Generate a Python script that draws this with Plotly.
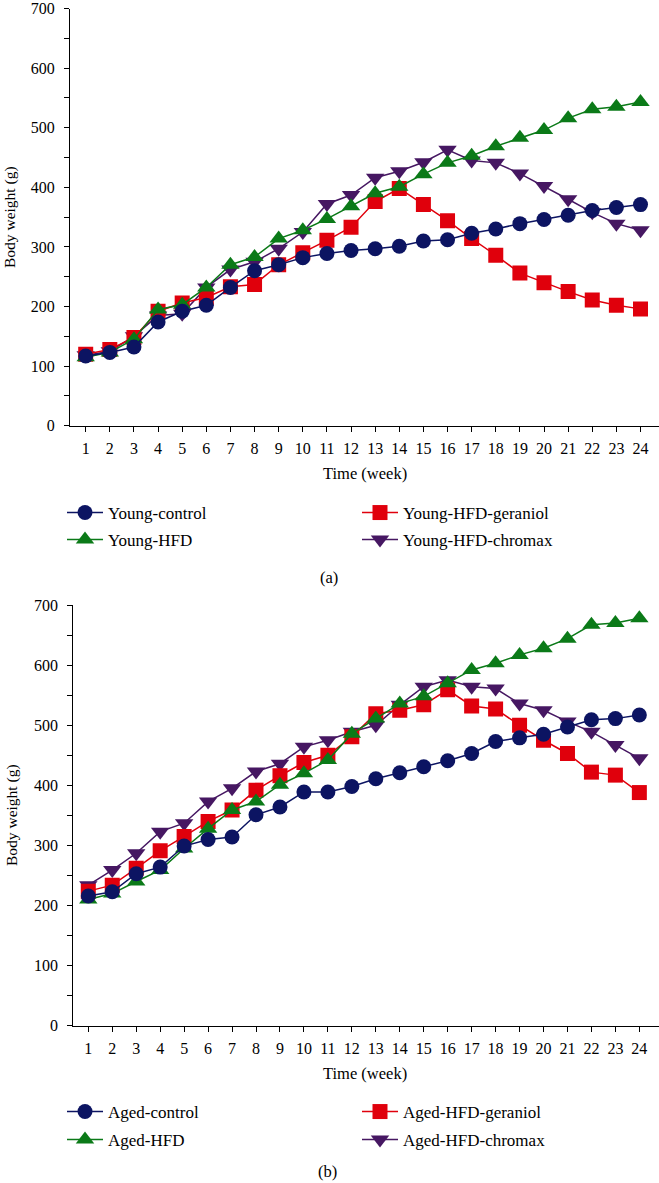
import plotly.graph_objects as go

weeks = list(range(1, 25))

young_control = [117, 123, 132, 174, 192, 202, 232, 260, 270, 282, 289, 294,
                 297, 301, 310, 312, 323, 330, 339, 346, 353, 361, 366, 371]
young_hfd = [115, 123, 145, 195, 203, 232, 270, 283, 314, 328, 347, 368,
             390, 401, 422, 441, 453, 469, 483, 496, 516, 531, 535, 543]
young_geraniol = [120, 128, 148, 192, 206, 215, 233, 237, 270, 290, 311, 333,
                  376, 398, 371, 344, 314, 286, 256, 240, 225, 211, 202, 196]
young_chromax = [118, 125, 150, 185, 188, 232, 262, 275, 297, 325, 372, 387,
                 416, 427, 442, 463, 445, 441, 423, 402, 380, 358, 339, 328]

aged_control = [216, 223, 253, 264, 299, 310, 314, 351, 364, 389, 389, 398,
                411, 421, 431, 441, 453, 473, 479, 485, 497, 509, 511, 517]
aged_hfd = [210, 220, 240, 259, 295, 328, 359, 373, 401, 420, 442, 486,
            511, 536, 548, 570, 592, 603, 617, 628, 644, 667, 670, 678]
aged_geraniol = [224, 234, 262, 291, 315, 340, 359, 392, 416, 438, 450, 481,
                 519, 525, 534, 559, 532, 527, 500, 475, 453, 422, 417, 388]
aged_chromax = [234, 259, 287, 323, 337, 373, 395, 423, 436, 464, 475, 489,
                500, 534, 564, 575, 564, 561, 536, 525, 506, 489, 467, 445]

names_young = ["Young-control", "Young-HFD", "Young-HFD-geraniol", "Young-HFD-chromax"]
names_aged = ["Aged-control", "Aged-HFD", "Aged-HFD-geraniol", "Aged-HFD-chromax"]

NAVY = "#0c1462"
GREEN = "#0b7a18"
RED = "#e0000c"
PURPLE = "#461762"
FONT = "Liberation Serif"

W, H = 659, 1183

def px_x(p):
    return p / W

def px_y(p):
    return 1 - p / H

fig = go.Figure()

styles = [
    (NAVY, "circle", 15),
    (GREEN, "triangle-up", 16),
    (RED, "square", 15),
    (PURPLE, "triangle-down", 16),
]

panels = [
    (names_young, [young_control, young_hfd, young_geraniol, young_chromax], "x", "y", 0),
    (names_aged, [aged_control, aged_hfd, aged_geraniol, aged_chromax], "x2", "y2", 4),
]

draw_order = [3, 2, 1, 0]
for names, series, xa, ya, off in panels:
    for i in draw_order:
        color, sym, size = styles[i]
        lg_idx = off + i + 1
        lg_name = "legend" if lg_idx == 1 else f"legend{lg_idx}"
        fig.add_trace(go.Scatter(
            x=weeks, y=series[i], name=names[i], xaxis=xa, yaxis=ya,
            mode="lines+markers",
            line=dict(color=color, width=1.5),
            marker=dict(color=color, symbol=sym, size=size, line=dict(width=0)),
            legend=lg_name, showlegend=True,
        ))

legend_layouts = {}
rows = {0: (513, 540), 4: (1112, 1140)}
for off in (0, 4):
    r1, r2 = rows[off]
    pos = [(62, r1), (62, r2), (357, r1), (357, r2)]
    for i in range(4):
        lg_idx = off + i + 1
        key = "legend" if lg_idx == 1 else f"legend{lg_idx}"
        px, py = pos[i]
        legend_layouts[key] = dict(
            x=px_x(px), y=px_y(py), xanchor="left", yanchor="middle",
            xref="paper", yref="paper",
            bgcolor="rgba(0,0,0,0)", borderwidth=0,
            font=dict(family=FONT, size=17, color="black"),
            itemwidth=36,
        )

axis_common = dict(
    showgrid=False, zeroline=False, showline=True, linecolor="black", linewidth=1.2,
    ticks="outside", ticklen=5, tickwidth=1.2, tickcolor="black",
    tickfont=dict(family=FONT, size=16, color="black"),
    automargin=False, ticklabeloverflow="allow",
)

yaxis_common = dict(axis_common, range=[0, 700], tickmode="array",
                    tickvals=[0, 100, 200, 300, 400, 500, 600, 700],
                    minor=dict(tickvals=[50, 150, 250, 350, 450, 550, 650],
                               ticks="outside", ticklen=5, tickwidth=1.2, tickcolor="black"),
                    ticklabelstandoff=6)

xaxis_common = dict(axis_common, tickmode="array", tickvals=weeks,
                    ticktext=[str(w) for w in weeks], ticklabelstandoff=3)

fig.update_layout(
    width=W, height=H,
    margin=dict(l=0, r=0, t=0, b=0, autoexpand=False),
    paper_bgcolor="white", plot_bgcolor="white",
    font=dict(family=FONT, color="black"),
    xaxis=dict(xaxis_common, domain=[px_x(70), 1.0], range=[0.349, 24.767], anchor="y"),
    yaxis=dict(yaxis_common, domain=[px_y(425.7), px_y(8.5)], anchor="x"),
    xaxis2=dict(xaxis_common, domain=[px_x(73.3), 1.0], range=[0.374, 24.82], anchor="y2"),
    yaxis2=dict(yaxis_common, domain=[px_y(1025.8), px_y(605)], anchor="x2"),
    **legend_layouts,
)

annots = [
    dict(text="Body weight (g)", x=px_x(10), y=px_y(217), textangle=-90, size=15.5),
    dict(text="Time (week)", x=px_x(365), y=px_y(473), textangle=0, size=16.5),
    dict(text="(a)", x=px_x(329), y=px_y(577), textangle=0, size=16.5),
    dict(text="Body weight (g)", x=px_x(12), y=px_y(815), textangle=-90, size=15.5),
    dict(text="Time (week)", x=px_x(365), y=px_y(1073), textangle=0, size=16.5),
    dict(text="(b)", x=px_x(327), y=px_y(1171), textangle=0, size=16.5),
]
for a in annots:
    fig.add_annotation(
        text=a["text"], x=a["x"], y=a["y"], xref="paper", yref="paper",
        xanchor="center", yanchor="middle", showarrow=False, textangle=a["textangle"],
        font=dict(family=FONT, size=a["size"], color="black"),
    )

fig.write_html(
    "out.html",
    config={"displayModeBar": False},
    post_script="document.body.style.margin='0';document.body.style.overflow='hidden';",
)
